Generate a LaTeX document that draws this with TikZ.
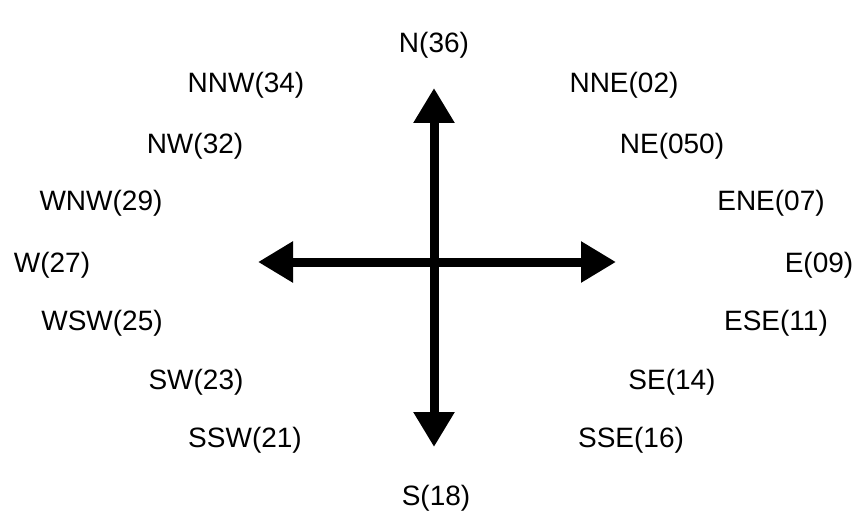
\documentclass[tikz,border=0pt]{standalone}
\usepackage{fontspec}
\setmainfont{Liberation Sans}
\usetikzlibrary{arrows.meta,positioning}

\begin{document}
\begin{tikzpicture}[
            x = 1pt, y = 1pt,
            > = {Triangle[length=35pt,width=39pt]}, % arrow head style
            line width = 9pt % thick axis
        ]

        \tikzstyle{dir}=[
            font = \fontsize{28}{34}\selectfont,
            inner sep = 0pt
        ]

        \useasboundingbox (0,0) rectangle (867,515);

        % ends of the two axes
        \coordinate (top) at (434,427);
        \coordinate (bottom) at (434,68);
        \coordinate (left) at (258,253);
        \coordinate (right) at (616,253);

        \draw[<->] (bottom) -- (top);
        \draw[<->] (left) -- (right);

        % wind directions
        \node[dir] (n) at (434,470) {N(36)};
        \node[dir] (nne) at (624,430) {NNE(02)};
        \node[dir] (ne) at (672,369) {NE(050)};
        \node[dir] (ene) at (771,312) {ENE(07)};
        \node[dir] (e) at (819,250) {E(09)};
        \node[dir] (ese) at (776,192) {ESE(11)};
        \node[dir] (se) at (672,133) {SE(14)};
        \node[dir] (sse) at (631,75) {SSE(16)};
        \node[dir] (s) at (436,17) {S(18)};
        \node[dir] (ssw) at (245,75) {SSW(21)};
        \node[dir] (sw) at (196,133) {SW(23)};
        \node[dir] (wsw) at (102,192) {WSW(25)};
        \node[dir] (w) at (52,250) {W(27)};
        \node[dir] (wnw) at (101,312) {WNW(29)};
        \node[dir] (nw) at (195,369) {NW(32)};
        \node[dir] (nnw) at (246,430) {NNW(34)};

    \end{tikzpicture}
\end{document}
